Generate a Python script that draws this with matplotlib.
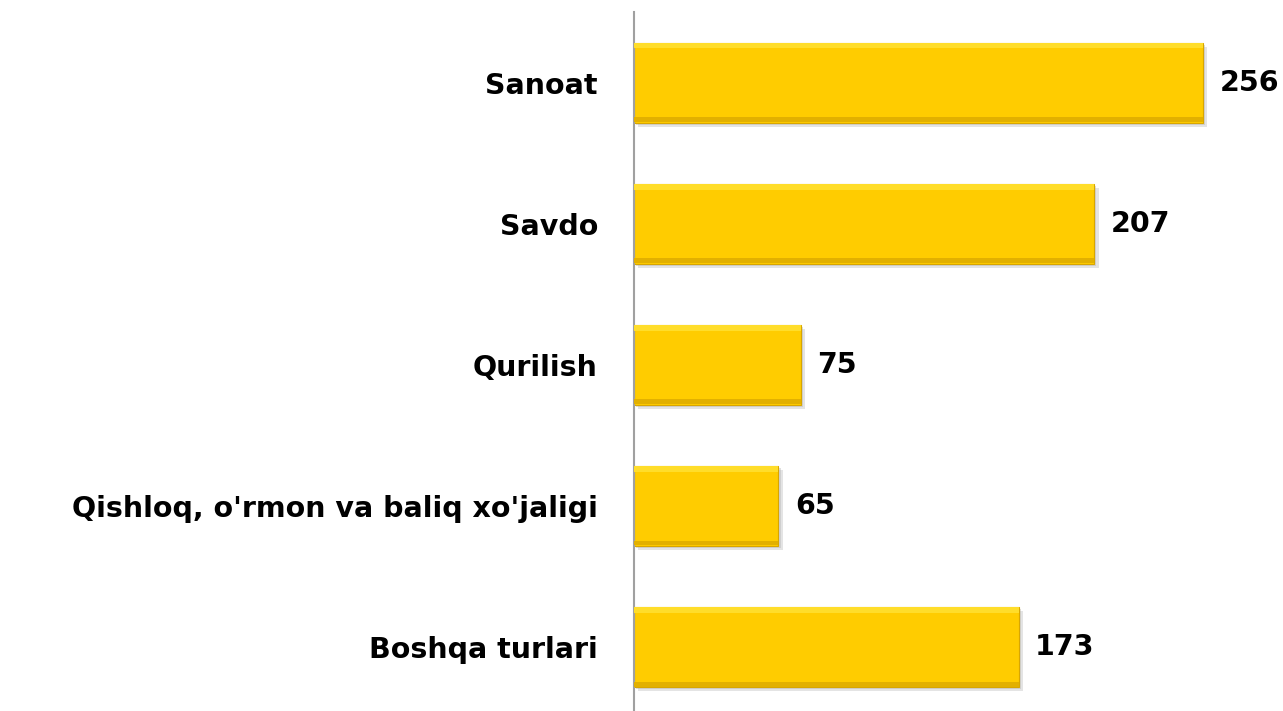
import matplotlib
matplotlib.use("Agg")
import matplotlib.pyplot as plt
import numpy as np

categories = ["Sanoat", "Savdo", "Qurilish", "Qishloq, o'rmon va baliq xo'jaligi", "Boshqa turlari"]
values = [256, 207, 75, 65, 173]

plt.rcParams["font.family"] = ["DejaVu Sans"]

fig = plt.figure(figsize=(12.83, 7.11), dpi=100)
ax = fig.add_axes([634 / 1283, 0.0, 1 - 634 / 1283, 699 / 711])

y = np.arange(len(categories))
h = 0.567

# soft shadow under each bar
ax.barh(y + 0.03, values, height=h, left=2, color="#c4c4c4", alpha=0.45, zorder=1)
ax.barh(y + 0.015, values, height=h, left=1, color="#b0b0b0", alpha=0.4, zorder=1)
# main bar
ax.barh(y, values, height=h, color="#FFCC00", edgecolor="#D8A600", linewidth=0.8, zorder=2)
# bevel highlight at the top
ax.barh(y - h / 2 + 0.022, values, height=0.04, color="#FFDD2A", linewidth=0, zorder=3)
# darker bottom edge
ax.barh(y + h / 2 - 0.02, values, height=0.035, color="#E2B000", linewidth=0, zorder=3)

for yi, v in zip(y, values):
    ax.text(v + 7.5, yi, str(v), va="center", ha="left", fontsize=20.5, fontweight="bold", color="black")

ax.set_yticks(y)
ax.set_yticklabels(categories, fontsize=20.5, fontweight="bold")
ax.tick_params(axis="y", length=0, pad=26)
ax.set_xticks([])
ax.set_xlim(0, 292)
ax.set_ylim(4.454, -0.5)

for s in ["top", "right", "bottom"]:
    ax.spines[s].set_visible(False)
ax.spines["left"].set_color("#a0a0a0")
ax.spines["left"].set_linewidth(1.5)

plt.savefig("out.png", dpi=100)
